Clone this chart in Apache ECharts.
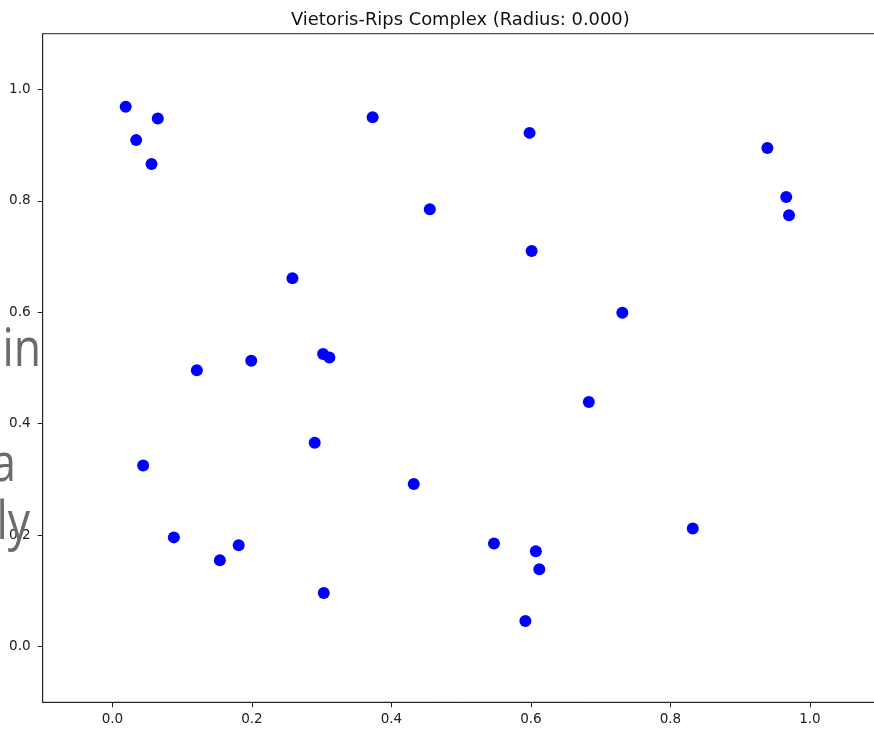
<!DOCTYPE html>
<html>
<head>
<meta charset="utf-8">
<script src="https://cdn.jsdelivr.net/npm/echarts@6/dist/echarts.min.js"></script>
<style>
html, body { margin: 0; padding: 0; background: #fff; }
#chart { width: 874px; height: 729px; }
</style>
</head>
<body>
<div id="chart"></div>
<script>
// point cloud
var xs = [0.019, 0.065, 0.034, 0.056, 0.373, 0.455, 0.598, 0.939, 0.966, 0.970,
	0.601, 0.258, 0.121, 0.199, 0.302, 0.311, 0.290, 0.044, 0.432, 0.731,
	0.683, 0.088, 0.154, 0.181, 0.303, 0.547, 0.607, 0.612, 0.592, 0.832];
var ys = [0.969, 0.948, 0.909, 0.866, 0.950, 0.785, 0.922, 0.895, 0.807, 0.774,
	0.710, 0.661, 0.496, 0.513, 0.525, 0.519, 0.366, 0.325, 0.292, 0.599,
	0.439, 0.196, 0.155, 0.182, 0.096, 0.185, 0.171, 0.139, 0.046, 0.212];

var xTicks = [0.0, 0.2, 0.4, 0.6, 0.8, 1.0];
var yTicks = [0.0, 0.2, 0.4, 0.6, 0.8, 1.0];
var radius = 0.0;

// word ends cut off at the left edge of the screenshot
var strayWords = ['in', 'a', 'ly'];

var points = xs.map(function (x, i) { return [x, ys[i]]; });

var font = 'DejaVu Sans';

var myChart = echarts.init(document.getElementById('chart'));

function strayText(txt, x, y) {
	return {
		type : 'text',
		x : x,
		y : y,
		scaleX : 0.84,
		z : 100,
		style : {
			text : txt,
			x : 0,
			y : 0,
			align : 'right',
			verticalAlign : 'middle',
			font : '53px "Open Sans"',
			fill : '#6b6b6b'
		}
	};
}

var option = {
	backgroundColor : '#ffffff',
	animation : false,
	title : {
		text : 'Vietoris-Rips Complex (Radius: ' + radius.toFixed(3) + ')',
		left : 286,
		top : 6,
		textStyle : {
			fontFamily : font,
			fontSize : 17.9,
			fontWeight : 'normal',
			color : '#111'
		}
	},
	grid : {
		left : 42.7,
		top : 33.7,
		width : 837,
		height : 668.6,
		outerBoundsMode : 'none',
		containLabel : false,
		show : true,
		borderColor : '#222',
		borderWidth : 1,
		backgroundColor : 'transparent'
	},
	xAxis : {
		type : 'value',
		min : -0.1,
		max : 1.1,
		splitLine : { show : false },
		axisLine : { show : true, onZero : false, lineStyle : { color : '#222', width : 1 } },
		axisTick : {
			show : true,
			inside : false,
			length : 5,
			customValues : xTicks,
			lineStyle : { color : '#222' }
		},
		axisLabel : {
			customValues : xTicks,
			margin : 10,
			fontFamily : font,
			fontSize : 13.6,
			color : '#222',
			formatter : function (v) { return v.toFixed(1); }
		}
	},
	yAxis : {
		type : 'value',
		min : -0.1,
		max : 1.1,
		splitLine : { show : false },
		axisLine : { show : true, onZero : false, lineStyle : { color : '#222', width : 1 } },
		axisTick : {
			show : true,
			inside : false,
			length : 5,
			customValues : yTicks,
			lineStyle : { color : '#222' }
		},
		axisLabel : {
			customValues : yTicks,
			margin : 12,
			fontFamily : font,
			fontSize : 13.6,
			color : '#222',
			formatter : function (v) { return v.toFixed(1); }
		}
	},
	series : [ {
		type : 'scatter',
		symbol : 'circle',
		symbolSize : 12,
		itemStyle : { color : '#0000ff', opacity : 1 },
		data : points
	} ],
	graphic : [
		strayText(strayWords[0], 41, 351),
		strayText(strayWords[1], 16, 466),
		strayText(strayWords[2], 30, 524)
	]
};

myChart.setOption(option);
</script>
</body>
</html>
